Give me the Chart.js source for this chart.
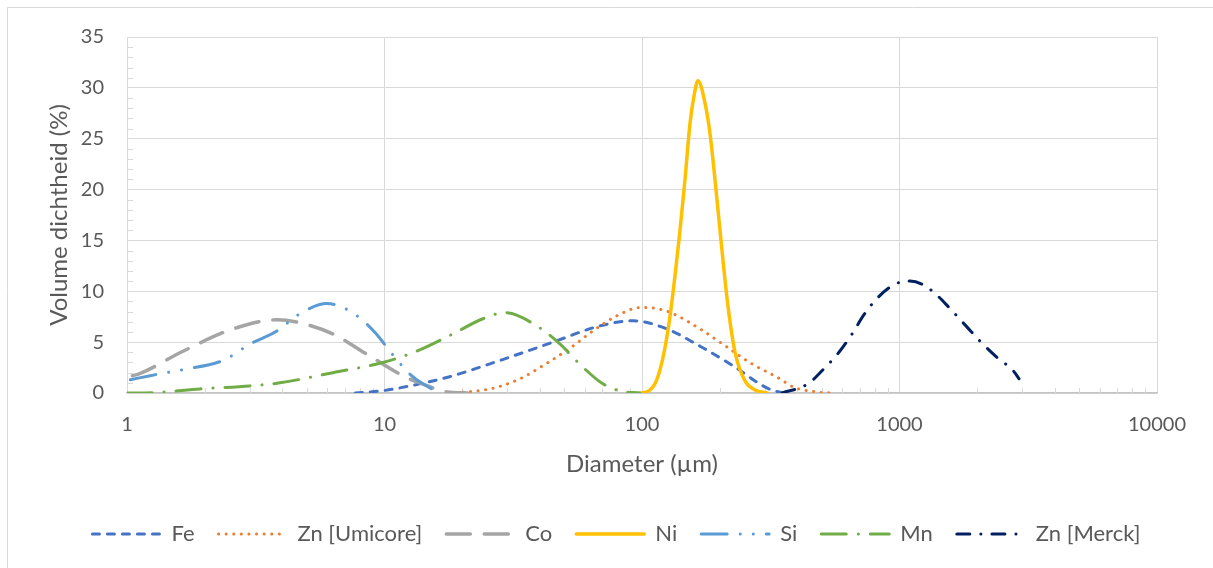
<!DOCTYPE html>
<html lang="nl">
<head>
  <meta charset="UTF-8" />
  <title>Volume dichtheid</title>
  <script src="https://cdn.jsdelivr.net/npm/chart.js"></script>
  <style>
    body { margin: 0; background: #fff; }
    .wrap { width: 1213px; height: 568px; position: relative; }
  </style>
</head>
<body>
  <div class="wrap"><canvas id="psd"></canvas></div>

  <script>
    // diameter (µm) / volume density (%)
    const feDiameter = [7.7, 10, 13.7, 17.9, 28.1, 44, 68.7, 92.3, 125, 168, 225, 305, 350];
    const feVolume   = [0, 0.25, 0.9, 1.6, 3.2, 4.9, 6.6, 7.1, 6.3, 4.6, 2.7, 0.5, 0];

    const znUDiameter = [17.6, 25.7, 33.6, 41.3, 52.5, 64.5, 80, 98.3, 114, 132, 168, 206, 262, 343, 386, 478, 552];
    const znUVolume   = [0, 0.4, 1.4, 2.7, 4.4, 6.1, 7.6, 8.4, 8.3, 7.8, 6.3, 4.8, 3.0, 1.4, 0.6, 0.1, 0];

    const coDiameter = [1.05, 1.12, 1.65, 2.58, 3.82, 4.7, 6.31, 8.55, 12.2, 13.7, 17.5, 21];
    const coVolume   = [1.7, 1.9, 4.1, 6.3, 7.2, 6.9, 5.8, 3.8, 1.5, 1.0, 0.1, 0];

    const niDiameter = [98.2, 102.7, 107.4, 112.3, 117.5, 122.9, 128.4, 134.3, 140.5, 146.9, 153.6, 159.2, 165, 175.7, 183.7, 193.8, 204.5, 215.8, 229.8, 251, 274.7, 305.8];
    const niVolume   = [0, 0.05, 0.3, 0.9, 2.3, 4.5, 7.5, 11.5, 16, 21, 26.5, 29.2, 30.7, 28.5, 25.5, 20, 14, 8.5, 4, 1.2, 0.3, 0];

    const siDiameter = [1.03, 1.23, 1.65, 2.36, 3.0, 3.82, 4.7, 5.98, 6.9, 8.0, 9.3, 10.5, 12.5, 14.1, 16.4];
    const siVolume   = [1.3, 1.7, 2.3, 3.2, 4.8, 6.1, 7.8, 8.8, 8.4, 7.4, 5.8, 4.1, 1.9, 0.9, 0];

    const mnDiameter = [1, 1.3, 1.92, 3.0, 3.93, 6.31, 9.85, 13.3, 18.4, 24.1, 29.4, 40.1, 48.1, 57.5, 70.5, 82.3, 98.2];
    const mnVolume   = [0, 0.05, 0.4, 0.7, 1.0, 2.0, 3.0, 4.1, 5.8, 7.3, 7.9, 6.4, 4.8, 2.8, 0.9, 0.2, 0];

    const znMDiameter = [350, 441, 514, 582, 654, 728, 825, 961, 1099, 1223, 1373, 1571, 1812, 2054, 2392, 2761, 2912];
    const znMVolume   = [0, 0.9, 2.5, 4.0, 5.8, 7.7, 9.4, 10.7, 11.0, 10.7, 9.8, 8.3, 6.6, 5.1, 3.5, 2.2, 1.4];

    const xLabels = [1, 10, 100, 1000, 10000];
    const yTicks = [0, 5, 10, 15, 20, 25, 30, 35];

    const pts = (xs, ys) => xs.map((x, i) => ({ x: x, y: ys[i] }));
    const textColor = '#595959';
    const gridColor = '#D9D9D9';

    const series = [
      { label: 'Fe', data: pts(feDiameter, feVolume), borderColor: '#4472C4', borderWidth: 3, borderDash: [7, 8] },
      { label: 'Zn [Umicore]', data: pts(znUDiameter, znUVolume), borderColor: '#ED7D31', borderWidth: 3, borderDash: [0.1, 7.5] },
      { label: 'Co', data: pts(coDiameter, coVolume), borderColor: '#A5A5A5', borderWidth: 3.5, borderDash: [24, 14] },
      { label: 'Ni', data: pts(niDiameter, niVolume), borderColor: '#FFC000', borderWidth: 3.5, borderDash: [] },
      { label: 'Si', data: pts(siDiameter, siVolume), borderColor: '#5B9BD5', borderWidth: 3, borderDash: [26, 13, 0.1, 13, 0.1, 13] },
      { label: 'Mn', data: pts(mnDiameter, mnVolume), borderColor: '#70AD47', borderWidth: 3, borderDash: [25, 12, 0.1, 12] },
      { label: 'Zn [Merck]', data: pts(znMDiameter, znMVolume), borderColor: '#002060', borderWidth: 3, borderDash: [13, 11, 0.1, 11] }
    ];

    const datasets = series.map((s, i) => Object.assign(s, {
      backgroundColor: s.borderColor,
      borderCapStyle: 'round',
      pointRadius: 0,
      fill: false,
      cubicInterpolationMode: 'monotone',
      order: series.length - i
    }));

    // frame + small inside tick marks like the spreadsheet chart
    const decor = {
      id: 'decor',
      beforeDraw(chart) {
        const c = chart.ctx;
        c.save();
        c.strokeStyle = gridColor;
        c.lineWidth = 1;
        c.beginPath();
        c.moveTo(7.5, 600); c.lineTo(7.5, 7.5); c.lineTo(1300, 7.5);
        c.stroke();
        c.restore();
      },
      beforeDatasetsDraw(chart) {
        const c = chart.ctx, x = chart.scales.x, y = chart.scales.y, a = chart.chartArea;
        c.save();
        c.strokeStyle = gridColor;
        c.lineWidth = 1;
        c.beginPath();
        for (let d = 1; d < 10000; d *= 10) {
          for (let k = 2; k <= 9; k++) {
            const px = Math.round(x.getPixelForValue(d * k)) + 0.5;
            c.moveTo(px, a.bottom); c.lineTo(px, a.bottom - 5);
          }
        }
        for (let v = 1; v < 35; v++) {
          if (v % 5 === 0) continue;
          const py = Math.round(y.getPixelForValue(v)) + 0.5;
          c.moveTo(a.left, py); c.lineTo(a.left + 6, py);
        }
        c.stroke();
        c.restore();
      }
    };

    new Chart(document.getElementById('psd'), {
      type: 'line',
      data: { datasets: datasets },
      plugins: [decor],
      options: {
        responsive: true,
        maintainAspectRatio: false,
        animation: false,
        layout: { padding: { left: 20, top: 37, right: 0, bottom: 13 } },
        plugins: {
          tooltip: { enabled: false },
          legend: {
            position: 'bottom',
            labels: {
              usePointStyle: true,
              pointStyle: 'line',
              pointStyleWidth: 68,
              padding: 24,
              color: textColor,
              font: { family: 'Lato', size: 22 },
              sort: (a, b) => a.datasetIndex - b.datasetIndex,
              generateLabels: (chart) => {
                const items = Chart.defaults.plugins.legend.labels.generateLabels(chart);
                items.forEach(it => {
                  const ds = chart.data.datasets[it.datasetIndex];
                  it.lineDash = ds.borderDash;
                  it.lineWidth = ds.borderWidth;
                  it.lineCap = 'round';
                  it.strokeStyle = ds.borderColor;
                  it.fillStyle = ds.borderColor;
                });
                return items;
              }
            }
          }
        },
        scales: {
          x: {
            type: 'logarithmic',
            min: 1,
            max: 10000,
            afterBuildTicks: (scale) => {
              const t = [];
              for (let d = 1; d < 10000; d *= 10) {
                for (let k = 1; k <= 9; k++) t.push({ value: d * k });
              }
              t.push({ value: 10000 });
              scale.ticks = t;
            },
            afterFit: (scale) => { scale.height = 106; },
            grid: {
              color: (ctx) => (ctx.tick && xLabels.includes(ctx.tick.value)) ? gridColor : 'rgba(0,0,0,0)',
              drawTicks: false
            },
            border: { color: '#C4C4C4', width: 1.5 },
            ticks: {
              autoSkip: false,
              maxRotation: 0,
              padding: 20,
              color: textColor,
              font: { family: 'Lato', size: 20 },
              callback: (v) => xLabels.includes(v) ? String(v) : ''
            },
            title: {
              display: true,
              text: 'Diameter (µm)',
              color: textColor,
              font: { family: 'Lato', size: 24 },
              padding: { top: 0, bottom: 20 }
            }
          },
          y: {
            min: 0,
            max: 35,
            afterBuildTicks: (scale) => { scale.ticks = yTicks.map(v => ({ value: v })); },
            afterFit: (scale) => { scale.width = 107; },
            grid: { color: gridColor, drawTicks: false },
            border: { color: gridColor },
            ticks: {
              padding: 23,
              color: textColor,
              font: { family: 'Lato', size: 20 }
            },
            title: {
              display: true,
              text: 'Volume dichtheid (%)',
              color: textColor,
              font: { family: 'Lato', size: 24 },
              padding: { top: 25, bottom: 0 }
            }
          },
          yRight: {
            position: 'right',
            display: true,
            afterFit: (scale) => { scale.width = 56; },
            grid: { display: false, drawTicks: false },
            border: { display: false },
            ticks: { display: false }
          }
        }
      }
    });
  </script>
</body>
</html>
